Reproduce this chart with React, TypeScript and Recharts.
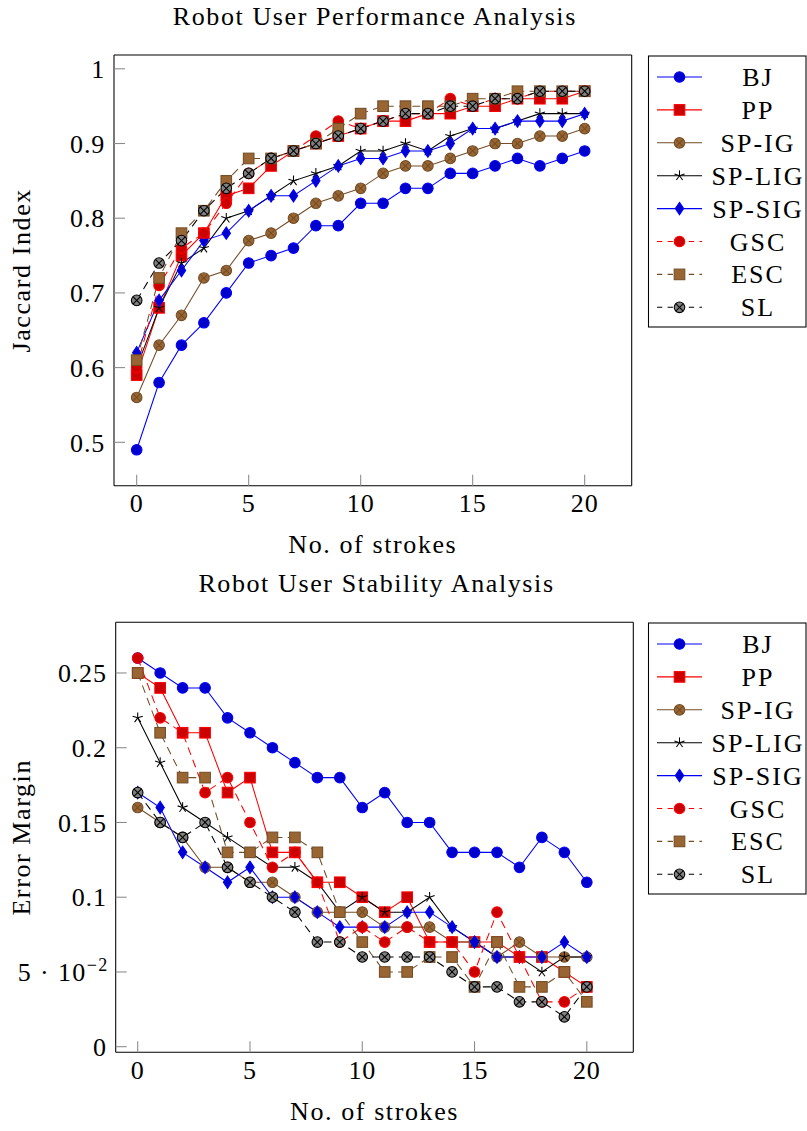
import React from 'react';
import { LineChart, Line, XAxis, YAxis } from 'recharts';

// ---------- data ----------
const strokes = [0, 1, 2, 3, 4, 5, 6, 7, 8, 9, 10, 11, 12, 13, 14, 15, 16, 17, 18, 19, 20];

// Robot User Performance Analysis (Jaccard Index)
const perfBJ = [0.49, 0.58, 0.63, 0.66, 0.70, 0.74, 0.75, 0.76, 0.79, 0.79, 0.82, 0.82, 0.84, 0.84, 0.86, 0.86, 0.87, 0.88, 0.87, 0.88, 0.89];
const perfPP = [0.59, 0.68, 0.75, 0.78, 0.83, 0.84, 0.87, 0.89, 0.90, 0.91, 0.92, 0.93, 0.93, 0.94, 0.94, 0.95, 0.95, 0.96, 0.96, 0.96, 0.97];
const perfSPIG = [0.56, 0.63, 0.67, 0.72, 0.73, 0.77, 0.78, 0.80, 0.82, 0.83, 0.84, 0.86, 0.87, 0.87, 0.88, 0.89, 0.90, 0.90, 0.91, 0.91, 0.92];
const perfSPLIG = [0.60, 0.68, 0.74, 0.76, 0.80, 0.81, 0.83, 0.85, 0.86, 0.87, 0.89, 0.89, 0.90, 0.89, 0.91, 0.92, 0.92, 0.93, 0.94, 0.94, 0.94];
const perfSPSIG = [0.62, 0.69, 0.73, 0.77, 0.78, 0.81, 0.83, 0.83, 0.85, 0.87, 0.88, 0.88, 0.89, 0.89, 0.90, 0.92, 0.92, 0.93, 0.93, 0.93, 0.94];
const perfGSC = [0.60, 0.71, 0.76, 0.78, 0.82, 0.86, 0.88, 0.89, 0.91, 0.93, 0.92, 0.93, 0.94, 0.94, 0.96, 0.95, 0.96, 0.96, 0.97, 0.97, 0.97];
const perfESC = [0.61, 0.72, 0.78, 0.81, 0.85, 0.88, 0.88, 0.89, 0.90, 0.92, 0.94, 0.95, 0.95, 0.95, 0.95, 0.96, 0.96, 0.97, 0.97, 0.97, 0.97];
const perfSL = [0.69, 0.74, 0.77, 0.81, 0.84, 0.86, 0.88, 0.89, 0.90, 0.91, 0.92, 0.93, 0.94, 0.94, 0.95, 0.95, 0.96, 0.96, 0.97, 0.97, 0.97];

// Robot User Stability Analysis (Error Margin)
const stabBJ = [0.26, 0.25, 0.24, 0.24, 0.22, 0.21, 0.20, 0.19, 0.18, 0.18, 0.16, 0.17, 0.15, 0.15, 0.13, 0.13, 0.13, 0.12, 0.14, 0.13, 0.11];
const stabPP = [0.25, 0.24, 0.21, 0.21, 0.17, 0.18, 0.13, 0.13, 0.11, 0.11, 0.10, 0.09, 0.10, 0.07, 0.07, 0.07, 0.07, 0.06, 0.06, 0.05, 0.04];
const stabSPIG = [0.16, 0.15, 0.14, 0.12, 0.12, 0.11, 0.11, 0.10, 0.09, 0.09, 0.09, 0.08, 0.08, 0.08, 0.07, 0.07, 0.06, 0.07, 0.06, 0.06, 0.06];
const stabSPLIG = [0.22, 0.19, 0.16, 0.15, 0.14, 0.13, 0.12, 0.12, 0.11, 0.09, 0.10, 0.09, 0.09, 0.10, 0.08, 0.07, 0.06, 0.06, 0.05, 0.06, 0.06];
const stabSPSIG = [0.17, 0.16, 0.13, 0.12, 0.11, 0.12, 0.10, 0.10, 0.09, 0.08, 0.08, 0.08, 0.09, 0.09, 0.08, 0.07, 0.06, 0.06, 0.06, 0.07, 0.06];
const stabGSC = [0.26, 0.22, 0.21, 0.17, 0.18, 0.15, 0.12, 0.13, 0.11, 0.07, 0.08, 0.07, 0.08, 0.07, 0.07, 0.05, 0.09, 0.06, 0.03, 0.03, 0.04];
const stabESC = [0.25, 0.21, 0.18, 0.18, 0.13, 0.13, 0.14, 0.14, 0.13, 0.09, 0.07, 0.05, 0.05, 0.06, 0.06, 0.04, 0.07, 0.04, 0.04, 0.05, 0.03];
const stabSL = [0.17, 0.15, 0.14, 0.15, 0.12, 0.11, 0.10, 0.09, 0.07, 0.07, 0.06, 0.06, 0.06, 0.06, 0.05, 0.04, 0.04, 0.03, 0.03, 0.02, 0.04];

const seriesNames = ['BJ', 'PP', 'SP-IG', 'SP-LIG', 'SP-SIG', 'GSC', 'ESC', 'SL'];
const xTicks = [0, 5, 10, 15, 20];
const perfTicks = [0.5, 0.6, 0.7, 0.8, 0.9, 1];
const stabTicks = [0, 0.05, 0.1, 0.15, 0.2, 0.25];

const perfData = strokes.map((s, i) => ({
  s,
  BJ: perfBJ[i], PP: perfPP[i], 'SP-IG': perfSPIG[i], 'SP-LIG': perfSPLIG[i],
  'SP-SIG': perfSPSIG[i], GSC: perfGSC[i], ESC: perfESC[i], SL: perfSL[i],
}));
const stabData = strokes.map((s, i) => ({
  s,
  BJ: stabBJ[i], PP: stabPP[i], 'SP-IG': stabSPIG[i], 'SP-LIG': stabSPLIG[i],
  'SP-SIG': stabSPSIG[i], GSC: stabGSC[i], ESC: stabESC[i], SL: stabSL[i],
}));

// ---------- styles ----------
const FONT = '"Liberation Serif", "DejaVu Serif", serif';
const FS = 26;
const LW = 1.06;
const DASH = '8 5.3';
const LS_LABEL = '1.6px';

type Spec = { stroke: string; fill: string; mark: string; dashed: boolean };
const SPECS: Record<string, Spec> = {
  BJ: { stroke: '#0000ff', fill: '#0000cc', mark: 'circle', dashed: false },
  PP: { stroke: '#ff0000', fill: '#cc0000', mark: 'square', dashed: false },
  'SP-IG': { stroke: '#734d26', fill: '#996633', mark: 'otimes', dashed: false },
  'SP-LIG': { stroke: '#000000', fill: '#000000', mark: 'star', dashed: false },
  'SP-SIG': { stroke: '#0000ff', fill: '#0000cc', mark: 'diamond', dashed: false },
  GSC: { stroke: '#ff0000', fill: '#cc0000', mark: 'circle', dashed: true },
  ESC: { stroke: '#734d26', fill: '#996633', mark: 'square', dashed: true },
  SL: { stroke: '#000000', fill: '#808080', mark: 'otimes', dashed: true },
};

function Marker({ kind, cx, cy, stroke, fill }: { kind: string; cx: number; cy: number; stroke: string; fill: string }) {
  const r = 5.3;
  if (cx == null || cy == null || isNaN(cx) || isNaN(cy)) return null;
  switch (kind) {
    case 'circle':
      return <circle cx={cx} cy={cy} r={r} fill={fill} stroke={stroke} strokeWidth={LW} />;
    case 'square':
      return <rect x={cx - r} y={cy - r} width={2 * r} height={2 * r} fill={fill} stroke={stroke} strokeWidth={LW} />;
    case 'otimes': {
      const d = r * 0.7071;
      return (
        <g>
          <circle cx={cx} cy={cy} r={r} fill={fill} stroke={stroke} strokeWidth={LW} />
          <line x1={cx - d} y1={cy - d} x2={cx + d} y2={cy + d} stroke={stroke} strokeWidth={LW} />
          <line x1={cx - d} y1={cy + d} x2={cx + d} y2={cy - d} stroke={stroke} strokeWidth={LW} />
        </g>
      );
    }
    case 'star': {
      const spokes = [90, 162, 234, 306, 18].map((a) => {
        const t = (a * Math.PI) / 180;
        return <line key={a} x1={cx} y1={cy} x2={cx + r * Math.cos(t)} y2={cy - r * Math.sin(t)} stroke={stroke} strokeWidth={LW} />;
      });
      return <g>{spokes}</g>;
    }
    case 'diamond': {
      const hw = 4.2, hh = 6.2;
      return <polygon points={`${cx},${cy - hh} ${cx + hw},${cy} ${cx},${cy + hh} ${cx - hw},${cy}`} fill={fill} stroke={stroke} strokeWidth={LW} />;
    }
    default:
      return null;
  }
}

const W = 807;
const PH = 567;

type Layout = {
  left: number; right: number; top: number; bottom: number;
  xDomain: [number, number]; yDomain: [number, number];
};

const perfLayout: Layout = { left: 114, right: 631.7, top: 55, bottom: 485.7, xDomain: [-1.013, 22.1], yDomain: [0.4419, 1.0185] };
const stabLayout: Layout = { left: 115.7, right: 633.3, top: 55.3, bottom: 485.3, xDomain: [-0.98, 22.07], yDomain: [-0.00375, 0.2839] };

function fmtPlain(v: number) {
  return String(Math.round(v * 1000) / 1000);
}

function makeYTick(sci: boolean) {
  return (props: any) => {
    const { x, y, payload } = props;
    const v = payload.value;
    if (sci && Math.abs(v - 0.05) < 1e-9) {
      return (
        <text x={x + 2} y={y} dy="0.355em" textAnchor="end" fill="#000" fontSize={FS} fontFamily={FONT} style={{ letterSpacing: '1.4px' }}>
          5 · 10<tspan dy={-10} fontSize={18}>−2</tspan>
        </text>
      );
    }
    return (
      <text x={x} y={y} dy="0.355em" textAnchor="end" fill="#000" fontSize={FS} fontFamily={FONT}>
        {fmtPlain(v)}
      </text>
    );
  };
}

function Panel({ offsetY, data, layout, yTicks, title, yLabel, sci }: {
  offsetY: number; data: any[]; layout: Layout; yTicks: number[]; title: string; yLabel: string; sci: boolean;
}) {
  const margin = {
    left: layout.left - 1,
    right: W - layout.right - 1,
    top: layout.top - 1,
    bottom: PH - layout.bottom - 1,
  };
  const cxPlot = (layout.left + layout.right) / 2;
  const cyPlot = (layout.top + layout.bottom) / 2;
  const tickLine = { stroke: '#8a8a8a', strokeWidth: LW };
  const axisLine = { stroke: '#000', strokeWidth: LW };
  const legTop = 56;
  const labelStyle = { letterSpacing: LS_LABEL };
  return (
    <div style={{ position: 'absolute', left: 0, top: offsetY, width: W, height: PH }}>
      <LineChart width={W} height={PH} data={data} margin={margin}>
        <XAxis xAxisId="b" dataKey="s" type="number" orientation="bottom" domain={layout.xDomain} ticks={xTicks}
          allowDataOverflow interval={0} height={1} tickSize={-11} tickMargin={19}
          tickLine={tickLine} axisLine={axisLine}
          tick={{ fill: '#000', fontSize: FS, fontFamily: FONT }} />
        <XAxis xAxisId="t" dataKey="s" type="number" orientation="top" domain={layout.xDomain} ticks={xTicks}
          allowDataOverflow interval={0} height={1} tickSize={-11} tickLine={tickLine} axisLine={axisLine} tick={false} />
        <YAxis yAxisId="l" type="number" orientation="left" domain={layout.yDomain} ticks={yTicks}
          allowDataOverflow interval={0} width={1} tickSize={-11} tickMargin={20}
          tickLine={tickLine} axisLine={axisLine} tick={makeYTick(sci)} />
        <YAxis yAxisId="r" type="number" orientation="right" domain={layout.yDomain} ticks={yTicks}
          allowDataOverflow interval={0} width={1} tickSize={-11} tickLine={tickLine} axisLine={axisLine} tick={false} />
        {seriesNames.map((name) => {
          const sp = SPECS[name];
          return (
            <Line key={name} xAxisId="b" yAxisId="l" type="linear" dataKey={name}
              stroke={sp.stroke} strokeWidth={LW} strokeDasharray={sp.dashed ? DASH : undefined}
              isAnimationActive={false} activeDot={false}
              dot={(p: any) => (
                <Marker key={`${name}-${p.index}`} kind={sp.mark} cx={p.cx} cy={p.cy} stroke={sp.stroke} fill={sp.fill} />
              )} />
          );
        })}
      </LineChart>
      <svg width={W} height={PH} style={{ position: 'absolute', left: 0, top: 0, pointerEvents: 'none' }}>
        <text x={cxPlot + 2} y={25} textAnchor="middle" fontSize={FS} fontFamily={FONT} fill="#000" style={labelStyle}>{title}</text>
        <text x={cxPlot} y={553} textAnchor="middle" fontSize={FS} fontFamily={FONT} fill="#000" style={labelStyle}>No. of strokes</text>
        <text x={30} y={cyPlot} textAnchor="middle" fontSize={FS} fontFamily={FONT} fill="#000" style={labelStyle}
          transform={`rotate(-90 30 ${cyPlot})`}>{yLabel}</text>
        <rect x={648.5} y={legTop} width={157.5} height={271} fill="#fff" stroke="#000" strokeWidth={LW} />
        {seriesNames.map((name, i) => {
          const sp = SPECS[name];
          const cy = legTop + 21 + i * 32.9;
          return (
            <g key={name}>
              <line x1={657} y1={cy} x2={702} y2={cy} stroke={sp.stroke} strokeWidth={LW}
                strokeDasharray={sp.dashed ? '5.3 5.3' : undefined} />
              <Marker kind={sp.mark} cx={679.5} cy={cy} stroke={sp.stroke} fill={sp.fill} />
              <text x={758} y={cy + 9} textAnchor="middle" fontSize={FS} fontFamily={FONT} fill="#000"
                style={{ letterSpacing: '2px' }}>{name}</text>
            </g>
          );
        })}
      </svg>
    </div>
  );
}

export default function App() {
  return (
    <div style={{ position: 'absolute', left: 0, top: 0, width: W, height: 1131, background: '#fff', fontFamily: FONT, letterSpacing: '0.8px' }}>
      <Panel offsetY={0} data={perfData} layout={perfLayout} yTicks={perfTicks}
        title="Robot User Performance Analysis" yLabel="Jaccard Index" sci={false} />
      <Panel offsetY={567} data={stabData} layout={stabLayout} yTicks={stabTicks}
        title="Robot User Stability Analysis" yLabel="Error Margin" sci={true} />
    </div>
  );
}
